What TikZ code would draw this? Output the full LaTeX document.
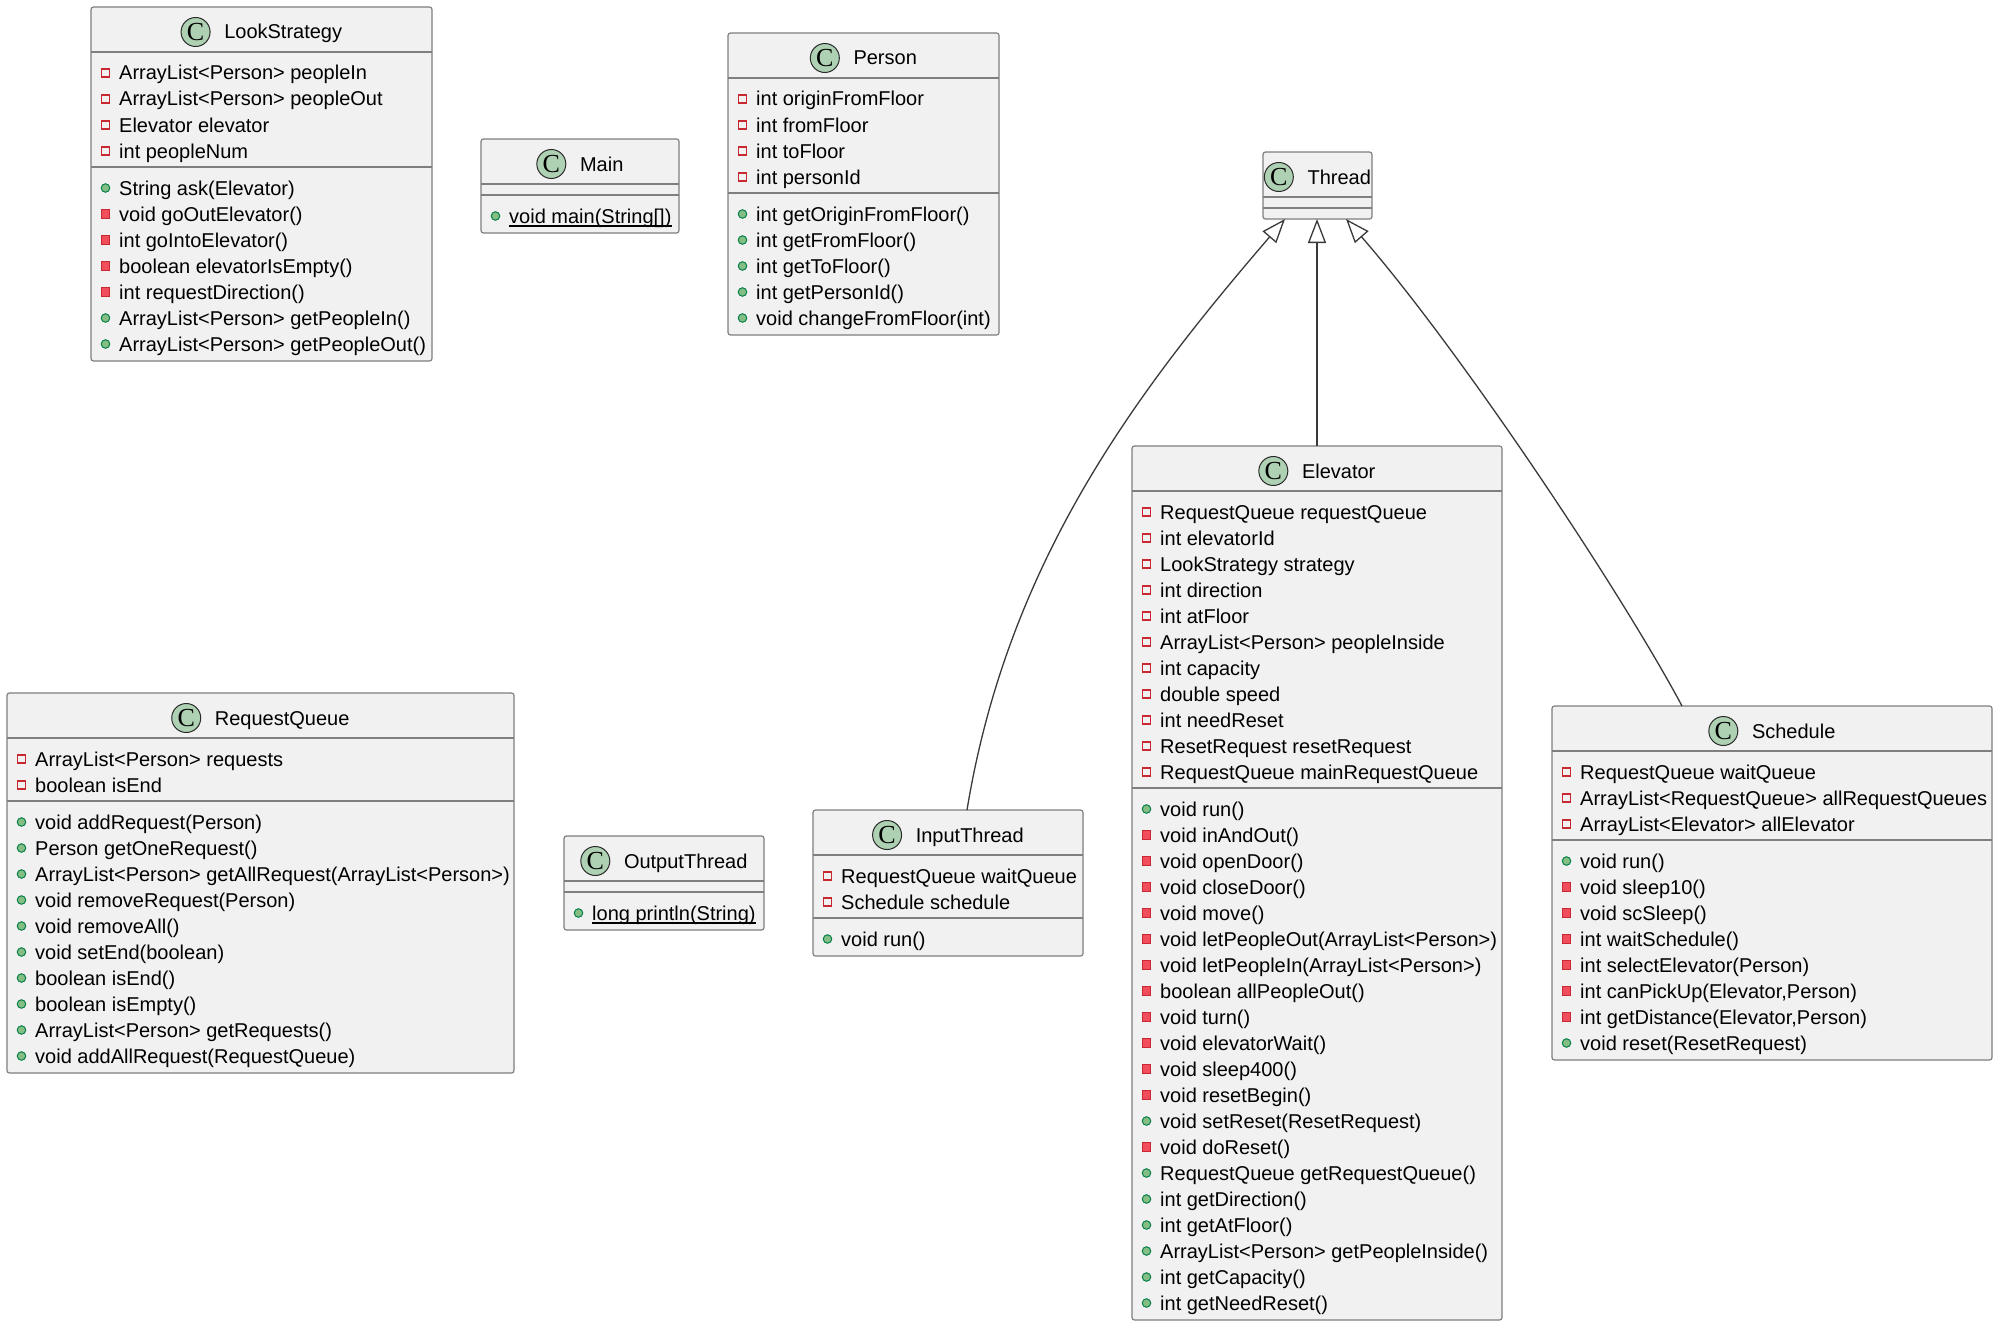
\documentclass[tikz,border=0pt]{standalone}
\usepackage{fontspec}
\setmainfont{Liberation Sans}
\newfontfamily\cfont{Liberation Serif}
\usetikzlibrary{arrows.meta}
\definecolor{boxfill}{HTML}{F1F1F1}
\definecolor{boxline}{HTML}{7F7F7F}
\definecolor{badgefill}{HTML}{ADD1B2}
\definecolor{badgeline}{HTML}{2A2A2A}
\definecolor{privred}{HTML}{C82930}
\definecolor{privfill}{HTML}{F24D5C}
\definecolor{pubgreen}{HTML}{038048}
\definecolor{pubfill}{HTML}{84BE84}
\definecolor{edgecol}{HTML}{3A3A3A}
\newdimen\umlhdw
\newcommand\umltitlefont{\fontsize{20}{24}\selectfont}
\tikzset{
  classbox/.style={draw=boxline, fill=boxfill, line width=1.2pt, rounded corners=2.5pt, inner sep=0pt, outer sep=0pt},
  sepline/.style={draw=boxline, line width=1.2pt},
  cbadge/.style={circle, draw=badgeline, fill=badgefill, line width=1pt, minimum size=29pt, inner sep=0pt, font=\cfont\fontsize{26}{26}\selectfont},
  titletext/.style={inner sep=0pt, font=\umltitlefont},
  memtext/.style={inner sep=0pt, font=\fontsize{20}{24}\selectfont},
  iconpf/.style={rectangle, draw=privred, line width=1.1pt, minimum size=8pt, inner sep=0pt},
  iconpm/.style={rectangle, draw=privred, fill=privfill, line width=1pt, minimum size=8.5pt, inner sep=0pt},
  iconpu/.style={circle, draw=pubgreen, fill=pubfill, line width=1pt, minimum size=8.5pt, inner sep=0pt},
  uline/.style={draw=black, line width=1.1pt},
  ext/.style={draw=edgecol, line width=1.3pt, -{Triangle[open, length=24pt, width=18pt]}}
}
% name, left, top, right, bottom, header sep, member sep, title
\newcommand\umlclass[8]{%
  \node[classbox, minimum width={(#4-#2)*1pt}, minimum height={(#5-#3)*1pt}] (#1) at ({(#2+#4)/2},{(#3+#5)/2}) {};
  \draw[sepline] (#2,#6) -- (#4,#6);
  \draw[sepline] (#2,#7) -- (#4,#7);
  \pgfinterruptpicture\global\setbox1=\hbox{\umltitlefont #8}\endpgfinterruptpicture
  \global\umlhdw=\wd1
  \pgfmathsetmacro\umlgl{(#2+#4)/2-(43+\the\umlhdw)/2}%
  \node[cbadge] (#1-c) at ({\umlgl+14.5},{#3+25}) {C};
  \node[titletext, anchor=base west] (#1-title) at ({\umlgl+43},{#3+32}) {#8};
}
% prefix, left, first row centre, list
\newcommand\umlmembers[4]{%
  \foreach[count=\i from 0] \mk/\mt in {#4}{%
    \pgfmathsetmacro\yy{#3+26*\i}%
    \node[icon\mk] (#1-i\i) at ({#2+14.5},\yy) {};
    \node[memtext, anchor=base west] (#1-t\i) at ({#2+28},{\yy+7}) {\mt};
  }%
}
\begin{document}
\begin{tikzpicture}[x=1pt,y=-1pt]
\useasboundingbox[fill=white] (0,0) rectangle (1993,1327);

% LookStrategy
\umlclass{ls}{91}{7}{432}{361}{52}{167}{LookStrategy}
\umlmembers{ls-f}{91}{73}{pf/{ArrayList<Person> peopleIn}, pf/{ArrayList<Person> peopleOut}, pf/{Elevator elevator}, pf/{int peopleNum}}
\umlmembers{ls-m}{91}{188}{pu/{String ask(Elevator)}, pm/{void goOutElevator()}, pm/{int goIntoElevator()}, pm/{boolean elevatorIsEmpty()}, pm/{int requestDirection()}, pu/{ArrayList<Person> getPeopleIn()}, pu/{ArrayList<Person> getPeopleOut()}}

% Main
\umlclass{main}{481}{139}{679}{233}{184}{195}{Main}
\umlmembers{main-m}{481}{216}{pu/{void main(String[])}}
\draw[uline] ([yshift=-3pt]main-m-t0.base west) -- ([yshift=-3pt]main-m-t0.base east);

% Person
\umlclass{per}{728}{33}{999}{335}{78}{193}{Person}
\umlmembers{per-f}{728}{99}{pf/{int originFromFloor}, pf/{int fromFloor}, pf/{int toFloor}, pf/{int personId}}
\umlmembers{per-m}{728}{214}{pu/{int getOriginFromFloor()}, pu/{int getFromFloor()}, pu/{int getToFloor()}, pu/{int getPersonId()}, pu/{void changeFromFloor(int)}}

% Thread
\umlclass{thr}{1263}{152}{1372}{219}{197}{208}{Thread}

% Elevator
\umlclass{elev}{1132}{446}{1502}{1320}{491}{788}{Elevator}
\umlmembers{elev-f}{1132}{512}{pf/{RequestQueue requestQueue}, pf/{int elevatorId}, pf/{LookStrategy strategy}, pf/{int direction}, pf/{int atFloor}, pf/{ArrayList<Person> peopleInside}, pf/{int capacity}, pf/{double speed}, pf/{int needReset}, pf/{ResetRequest resetRequest}, pf/{RequestQueue mainRequestQueue}}
\umlmembers{elev-m}{1132}{809}{pu/{void run()}, pm/{void inAndOut()}, pm/{void openDoor()}, pm/{void closeDoor()}, pm/{void move()}, pm/{void letPeopleOut(ArrayList<Person>)}, pm/{void letPeopleIn(ArrayList<Person>)}, pm/{boolean allPeopleOut()}, pm/{void turn()}, pm/{void elevatorWait()}, pm/{void sleep400()}, pm/{void resetBegin()}, pu/{void setReset(ResetRequest)}, pm/{void doReset()}, pu/{RequestQueue getRequestQueue()}, pu/{int getDirection()}, pu/{int getAtFloor()}, pu/{ArrayList<Person> getPeopleInside()}, pu/{int getCapacity()}, pu/{int getNeedReset()}}

% Schedule
\umlclass{sch}{1552}{706}{1992}{1060}{751}{840}{Schedule}
\umlmembers{sch-f}{1552}{772}{pf/{RequestQueue waitQueue}, pf/{ArrayList<RequestQueue> allRequestQueues}, pf/{ArrayList<Elevator> allElevator}}
\umlmembers{sch-m}{1552}{861}{pu/{void run()}, pm/{void sleep10()}, pm/{void scSleep()}, pm/{int waitSchedule()}, pm/{int selectElevator(Person)}, pm/{int canPickUp(Elevator,Person)}, pm/{int getDistance(Elevator,Person)}, pu/{void reset(ResetRequest)}}

% RequestQueue
\umlclass{rq}{7}{693}{514}{1073}{738}{801}{RequestQueue}
\umlmembers{rq-f}{7}{759}{pf/{ArrayList<Person> requests}, pf/{boolean isEnd}}
\umlmembers{rq-m}{7}{822}{pu/{void addRequest(Person)}, pu/{Person getOneRequest()}, pu/{ArrayList<Person> getAllRequest(ArrayList<Person>)}, pu/{void removeRequest(Person)}, pu/{void removeAll()}, pu/{void setEnd(boolean)}, pu/{boolean isEnd()}, pu/{boolean isEmpty()}, pu/{ArrayList<Person> getRequests()}, pu/{void addAllRequest(RequestQueue)}}

% OutputThread
\umlclass{out}{564}{836}{764}{930}{881}{892}{OutputThread}
\umlmembers{out-m}{564}{913}{pu/{long println(String)}}
\draw[uline] ([yshift=-3pt]out-m-t0.base west) -- ([yshift=-3pt]out-m-t0.base east);

% InputThread
\umlclass{inp}{813}{810}{1083}{956}{855}{918}{InputThread}
\umlmembers{inp-f}{813}{876}{pf/{RequestQueue waitQueue}, pf/{Schedule schedule}}
\umlmembers{inp-m}{813}{939}{pu/{void run()}}

% generalisations
\draw[ext] (elev.north) -- (elev.north |- thr.south);
\draw[ext] ([xshift=19pt]inp.north) .. controls (1008,560) and (1138,390) .. ([xshift=-32.5pt]thr.south);
\draw[ext] ([xshift=-90pt]sch.north) .. controls (1620,590) and (1460,350) .. ([xshift=28.5pt]thr.south);
\end{tikzpicture}
\end{document}
